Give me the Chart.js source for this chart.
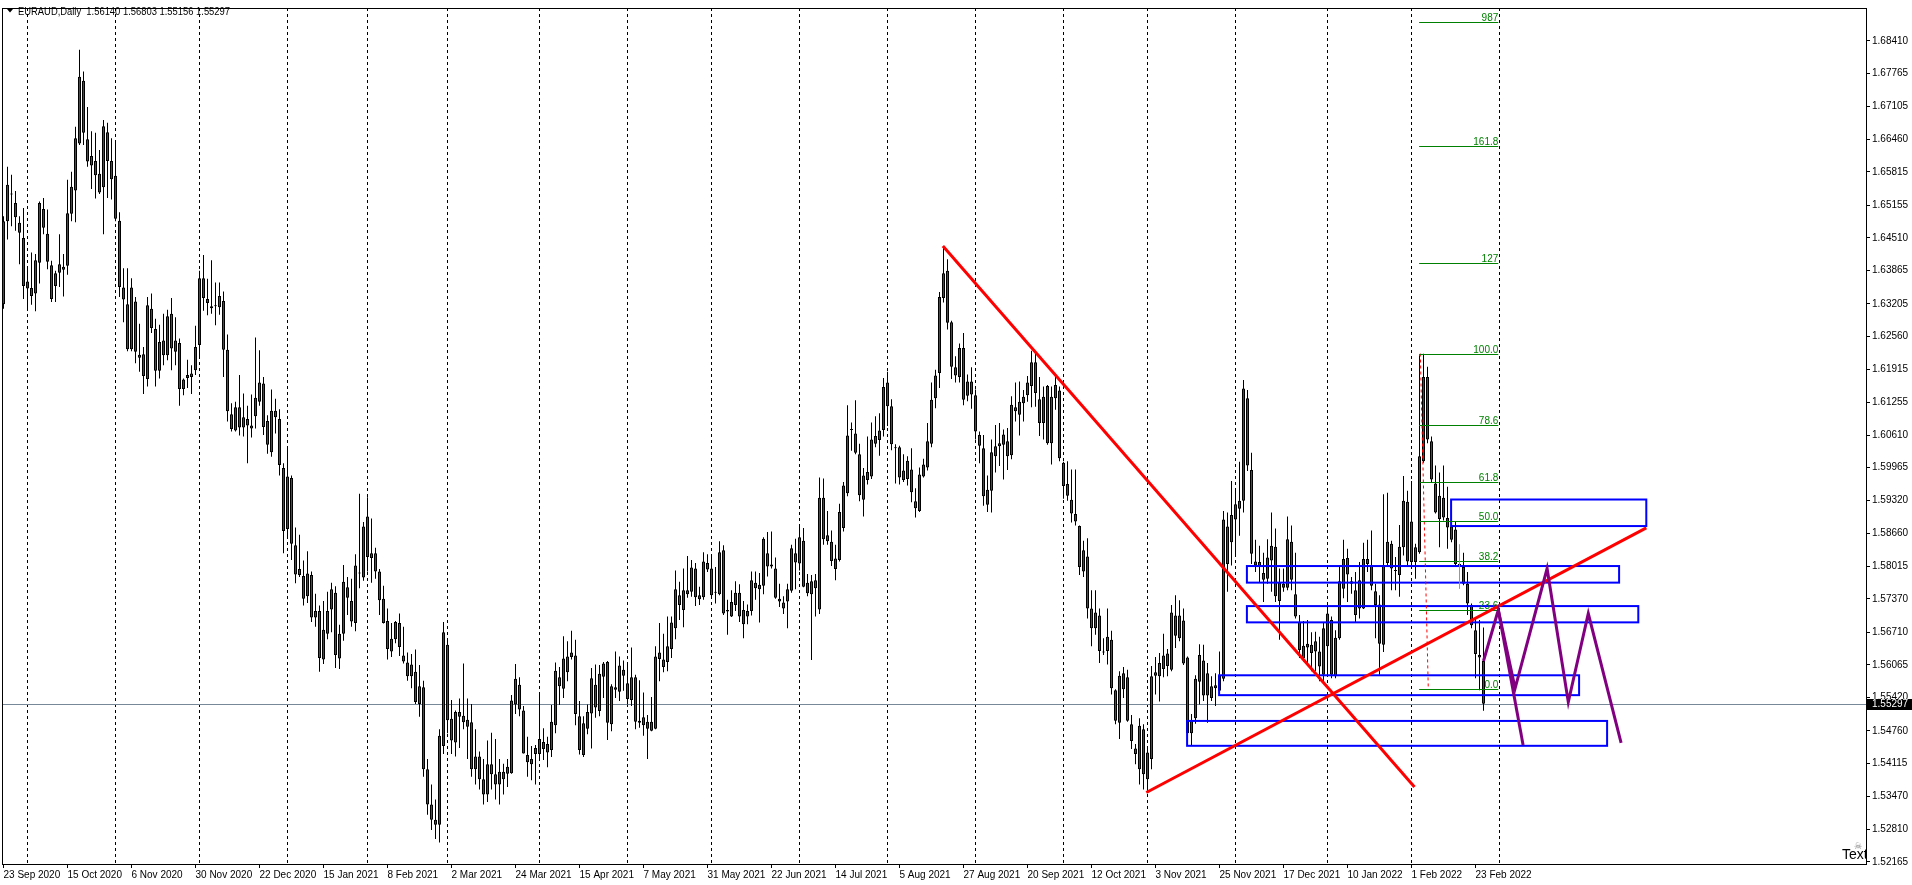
<!DOCTYPE html>
<html>
<head>
<meta charset="utf-8">
<title>EURAUD,Daily</title>
<script src="https://cdn.jsdelivr.net/npm/chart.js@4.4.1/dist/chart.umd.min.js"></script>
<style>
  html, body { margin: 0; padding: 0; background: #fff; overflow: hidden; }
  canvas { display: block; }
</style>
</head>
<body>
<canvas id="chart" width="1912" height="885"></canvas>
<script>
/* ===================== DATA ===================== */

const SYMBOL = "EURAUD,Daily";
const FIRST_BAR = "2020-09-23";
const HOLIDAYS = ["2020-12-25", "2021-01-01"];

const xTickLabels = [
  "23 Sep 2020","15 Oct 2020","6 Nov 2020","30 Nov 2020","22 Dec 2020","15 Jan 2021",
  "8 Feb 2021","2 Mar 2021","24 Mar 2021","15 Apr 2021","7 May 2021","31 May 2021",
  "22 Jun 2021","14 Jul 2021","5 Aug 2021","27 Aug 2021","20 Sep 2021","12 Oct 2021",
  "3 Nov 2021","25 Nov 2021","17 Dec 2021","10 Jan 2022","1 Feb 2022","23 Feb 2022"
];

const yTickValues = [
  1.68410,1.67765,1.67105,1.66460,1.65815,1.65155,1.64510,1.63865,1.63205,1.62560,
  1.61915,1.61255,1.60610,1.59965,1.59320,1.58660,1.58015,1.57370,1.56710,1.56065,
  1.55420,1.54760,1.54115,1.53470,1.52810,1.52165
];

const opens = [
  1.6320,1.6484,1.6538,1.6520,1.6481,1.6451,1.6365,1.6336,1.6341,1.6402,
  1.6508,1.6459,1.6397,1.6356,1.6382,1.6388,1.6396,1.6499,1.6545,1.6638,
  1.6762,1.6646,1.6594,1.6603,1.6578,1.6551,1.6660,1.6603,1.6574,1.6485,
  1.6353,1.6320,1.6231,1.6325,1.6220,1.6221,1.6172,1.6311,1.6271,1.6188,
  1.6219,1.6219,1.6301,1.6226,1.6243,1.6152,1.6180,1.6176,1.6189,1.6239,
  1.6371,1.6330,1.6316,1.6316,1.6314,1.6326,1.6230,1.6102,1.6070,1.6116,
  1.6076,1.6093,1.6080,1.6098,1.6127,1.6163,1.6089,1.6027,1.6109,1.6093,
  1.5996,1.5875,1.5976,1.5843,1.5784,1.5782,1.5742,1.5784,1.5700,1.5713,
  1.5617,1.5668,1.5716,1.5749,1.5619,1.5668,1.5760,1.5733,1.5689,1.5788,
  1.5779,1.5900,1.5818,1.5827,1.5791,1.5737,1.5693,1.5633,1.5657,1.5689,
  1.5625,1.5611,1.5584,1.5593,1.5529,1.5562,1.5400,1.5330,1.5300,1.5290,
  1.5446,1.5646,1.5500,1.5453,1.5513,1.5493,1.5498,1.5493,1.5400,1.5425,
  1.5380,1.5350,1.5410,1.5390,1.5370,1.5395,1.5391,1.5392,1.5528,1.5567,
  1.5516,1.5428,1.5410,1.5430,1.5430,1.5454,1.5450,1.5438,1.5487,1.5582,
  1.5559,1.5592,1.5622,1.5625,1.5505,1.5428,1.5480,1.5510,1.5567,1.5515,
  1.5583,1.5612,1.5489,1.5562,1.5553,1.5597,1.5570,1.5537,1.5582,1.5496,
  1.5487,1.5480,1.5476,1.5480,1.5618,1.5617,1.5612,1.5638,1.5679,1.5744,
  1.5715,1.5746,1.5751,1.5797,1.5736,1.5740,1.5808,1.5797,1.5750,1.5746,
  1.5833,1.5712,1.5702,1.5725,1.5749,1.5687,1.5702,1.5713,1.5769,1.5756,
  1.5763,1.5827,1.5801,1.5797,1.5737,1.5730,1.5732,1.5753,1.5809,1.5807,
  1.5852,1.5769,1.5746,1.5774,1.5716,1.5937,1.5863,1.5850,1.5796,1.5814,
  1.5877,1.5946,1.6071,1.6064,1.6023,1.5933,1.5972,1.5979,1.6044,1.6051,
  1.6071,1.6165,1.6118,1.6036,1.6037,1.5972,1.5974,1.5993,1.5930,1.5911,
  1.5979,1.5997,1.6044,1.6134,1.6184,1.6332,1.6386,1.6284,1.6195,1.6176,
  1.6233,1.6139,1.6167,1.6140,1.6061,1.6035,1.5923,1.5951,1.6019,1.6039,
  1.6042,1.6049,1.6021,1.6116,1.6101,1.6124,1.6140,1.6158,1.6205,1.6132,
  1.6085,1.6158,1.6045,1.6134,1.6149,1.6006,1.5964,1.5933,1.5905,1.5881,
  1.5791,1.5821,1.5718,1.5679,1.5704,1.5632,1.5634,1.5656,1.5556,1.5492,
  1.5558,1.5582,1.5489,1.5441,1.5400,1.5479,1.5380,1.5420,1.5585,1.5584,
  1.5598,1.5604,1.5597,1.5704,1.5659,1.5694,1.5621,1.5471,1.5501,1.5573,
  1.5615,1.5590,1.5541,1.5560,1.5555,1.5579,1.5880,1.5849,1.5894,1.5915,
  1.5931,1.6134,1.5992,1.5811,1.5810,1.5788,1.5777,1.5813,1.5840,1.5733,
  1.5759,1.5759,1.5850,1.5746,1.5691,1.5620,1.5641,1.5630,1.5633,1.5633,
  1.5587,1.5643,1.5695,1.5584,1.5659,1.5757,1.5818,1.5767,1.5754,1.5718,
  1.5718,1.5806,1.5803,1.5752,1.5726,1.5646,1.5808,1.5846,1.5793,1.5784,
  1.5839,1.5929,1.5890,1.5839,1.5829,1.6009,1.6176,1.6049,1.5965,1.5895,
  1.5937,1.5897,1.5854,1.5874,1.5806,1.5800,1.5767,1.5725,1.5675,1.5626,
  1.56140
];

const highs = [
  1.6494,1.6592,1.6576,1.6544,1.6494,1.6510,1.6392,1.6422,1.6419,1.6523,
  1.6530,1.6507,1.6406,1.6386,1.6458,1.6419,1.6566,1.6582,1.6671,1.6823,
  1.6780,1.6710,1.6662,1.6659,1.6625,1.6684,1.6679,1.6648,1.6639,1.6502,
  1.6391,1.6391,1.6371,1.6334,1.6281,1.6235,1.6334,1.6341,1.6291,1.6279,
  1.6301,1.6309,1.6332,1.6294,1.6252,1.6173,1.6210,1.6199,1.6277,1.6386,
  1.6417,1.6370,1.6407,1.6363,1.6363,1.6345,1.6260,1.6124,1.6127,1.6180,
  1.6143,1.6119,1.6141,1.6254,1.6229,1.6176,1.6100,1.6151,1.6133,1.6112,
  1.6005,1.6034,1.5981,1.5878,1.5864,1.5813,1.5831,1.5791,1.5747,1.5724,
  1.5733,1.5751,1.5769,1.5762,1.5686,1.5804,1.5780,1.5777,1.5825,1.5945,
  1.5889,1.5938,1.5896,1.5838,1.5796,1.5763,1.5718,1.5689,1.5693,1.5708,
  1.5682,1.5631,1.5628,1.5637,1.5606,1.5575,1.5420,1.5370,1.5340,1.5479,
  1.5691,1.5657,1.5537,1.5516,1.5540,1.5609,1.5540,1.5529,1.5479,1.5435,
  1.5420,1.5457,1.5472,1.5460,1.5420,1.5411,1.5420,1.5547,1.5608,1.5582,
  1.5525,1.5464,1.5446,1.5448,1.5551,1.5481,1.5464,1.5527,1.5611,1.5602,
  1.5663,1.5653,1.5674,1.5656,1.5535,1.5505,1.5528,1.5600,1.5607,1.5606,
  1.5612,1.5614,1.5568,1.5633,1.5623,1.5615,1.5610,1.5641,1.5587,1.5576,
  1.5552,1.5507,1.5543,1.5643,1.5689,1.5668,1.5702,1.5702,1.5793,1.5771,
  1.5797,1.5822,1.5814,1.5808,1.5761,1.5829,1.5825,1.5822,1.5800,1.5851,
  1.5843,1.5735,1.5754,1.5772,1.5766,1.5733,1.5726,1.5791,1.5791,1.5788,
  1.5859,1.5869,1.5870,1.5819,1.5767,1.5742,1.5767,1.5844,1.5856,1.5879,
  1.5877,1.5786,1.5784,1.5786,1.5977,1.5975,1.5911,1.5872,1.5844,1.5925,
  1.5968,1.6120,1.6086,1.6130,1.6044,1.5996,1.6058,1.6086,1.6098,1.6104,
  1.6174,1.6186,1.6132,1.6043,1.6040,1.6023,1.6019,1.6035,1.5956,1.5997,
  1.6014,1.6085,1.6165,1.6190,1.6344,1.6433,1.6409,1.6287,1.6217,1.6242,
  1.6263,1.6181,1.6195,1.6151,1.6068,1.6061,1.5981,1.6052,1.6081,1.6085,
  1.6072,1.6075,1.6138,1.6165,1.6167,1.6150,1.6178,1.6228,1.6225,1.6176,
  1.6157,1.6160,1.6157,1.6180,1.6157,1.6008,1.6009,1.5993,1.5993,1.5882,
  1.5852,1.5857,1.5754,1.5754,1.5718,1.5659,1.5718,1.5674,1.5558,1.5594,
  1.5602,1.5597,1.5507,1.5450,1.5501,1.5489,1.5445,1.5604,1.5622,1.5630,
  1.5668,1.5638,1.5725,1.5744,1.5734,1.5718,1.5623,1.5509,1.5586,1.5647,
  1.5646,1.5610,1.5584,1.5590,1.5633,1.5911,1.5908,1.5970,1.5954,1.6008,
  1.6170,1.6150,1.6026,1.5854,1.5842,1.5828,1.5855,1.5908,1.5876,1.5797,
  1.5797,1.5900,1.5882,1.5828,1.5705,1.5693,1.5695,1.5671,1.5672,1.5662,
  1.5689,1.5721,1.5702,1.5675,1.5800,1.5854,1.5836,1.5780,1.5790,1.5810,
  1.5848,1.5854,1.5872,1.5767,1.5744,1.5944,1.5947,1.5852,1.5820,1.5883,
  1.5980,1.5951,1.5970,1.5846,1.6219,1.6222,1.6196,1.6058,1.6001,1.5987,
  1.6001,1.5959,1.5934,1.5890,1.5816,1.5828,1.5790,1.5728,1.5698,1.5695,
  1.56803
];

const lows = [
  1.6311,1.6448,1.6474,1.6465,1.6399,1.6330,1.6311,1.6319,1.6306,1.6361,
  1.6458,1.6389,1.6324,1.6324,1.6354,1.6335,1.6378,1.6484,1.6482,1.6635,
  1.6635,1.6592,1.6548,1.6529,1.6538,1.6458,1.6530,1.6527,1.6484,1.6334,
  1.6284,1.6227,1.6227,1.6203,1.6186,1.6142,1.6157,1.6263,1.6157,1.6173,
  1.6199,1.6209,1.6189,1.6199,1.6119,1.6140,1.6154,1.6142,1.6180,1.6212,
  1.6307,1.6298,1.6301,1.6278,1.6299,1.6176,1.6088,1.6068,1.6068,1.6060,
  1.6058,1.6005,1.6056,1.6074,1.6119,1.6061,1.6024,1.6018,1.6064,1.5981,
  1.5827,1.5856,1.5814,1.5768,1.5780,1.5724,1.5729,1.5691,1.5682,1.5593,
  1.5608,1.5657,1.5671,1.5600,1.5598,1.5654,1.5705,1.5682,1.5673,1.5758,
  1.5773,1.5791,1.5769,1.5777,1.5705,1.5688,1.5617,1.5622,1.5649,1.5624,
  1.5609,1.5575,1.5560,1.5529,1.5504,1.5385,1.5310,1.5280,1.5262,1.5255,
  1.5430,1.5471,1.5430,1.5425,1.5442,1.5479,1.5420,1.5385,1.5370,1.5360,
  1.5330,1.5335,1.5360,1.5340,1.5330,1.5350,1.5365,1.5391,1.5509,1.5505,
  1.5431,1.5385,1.5378,1.5370,1.5417,1.5418,1.5404,1.5424,1.5471,1.5527,
  1.5541,1.5574,1.5617,1.5487,1.5429,1.5424,1.5469,1.5441,1.5502,1.5505,
  1.5541,1.5458,1.5475,1.5541,1.5535,1.5555,1.5528,1.5525,1.5479,1.5482,
  1.5466,1.5420,1.5475,1.5479,1.5574,1.5592,1.5594,1.5620,1.5657,1.5695,
  1.5681,1.5739,1.5741,1.5723,1.5725,1.5735,1.5790,1.5741,1.5728,1.5744,
  1.5705,1.5666,1.5701,1.5713,1.5691,1.5659,1.5687,1.5704,1.5735,1.5690,
  1.5746,1.5781,1.5797,1.5737,1.5721,1.5707,1.5679,1.5749,1.5756,1.5793,
  1.5760,1.5742,1.5616,1.5702,1.5707,1.5844,1.5844,1.5802,1.5774,1.5811,
  1.5870,1.5940,1.6030,1.6023,1.5930,1.5900,1.5963,1.5974,1.6037,1.6020,
  1.6058,1.6079,1.6031,1.5965,1.5963,1.5968,1.5961,1.5928,1.5898,1.5909,
  1.5977,1.5991,1.6037,1.6114,1.6154,1.6323,1.6270,1.6172,1.6165,1.6165,
  1.6120,1.6128,1.6113,1.6052,1.6005,1.5921,1.5909,1.5908,1.5987,1.6000,
  1.5973,1.5992,1.6013,1.6088,1.6060,1.6088,1.6127,1.6116,1.6117,1.6059,
  1.6052,1.6042,1.6003,1.6111,1.6009,1.5935,1.5931,1.5888,1.5882,1.5784,
  1.5780,1.5698,1.5643,1.5666,1.5610,1.5626,1.5607,1.5548,1.5489,1.5460,
  1.5541,1.5494,1.5440,1.5410,1.5370,1.5360,1.5354,1.5400,1.5548,1.5534,
  1.5582,1.5584,1.5594,1.5640,1.5653,1.5606,1.5466,1.5446,1.5490,1.5528,
  1.5535,1.5492,1.5535,1.5525,1.5548,1.5574,1.5751,1.5803,1.5823,1.5862,
  1.5908,1.5990,1.5806,1.5790,1.5770,1.5731,1.5767,1.5751,1.5731,1.5656,
  1.5751,1.5754,1.5754,1.5698,1.5620,1.5613,1.5607,1.5594,1.5594,1.5574,
  1.5571,1.5587,1.5580,1.5580,1.5656,1.5738,1.5731,1.5747,1.5689,1.5698,
  1.5717,1.5790,1.5754,1.5659,1.5587,1.5632,1.5803,1.5754,1.5754,1.5741,
  1.5823,1.5803,1.5800,1.5777,1.5826,1.6006,1.6045,1.5967,1.5906,1.5839,
  1.5892,1.5836,1.5849,1.5803,1.5790,1.5764,1.5705,1.5679,1.5580,1.5556,
  1.55156
];

const closes = [
  1.6484,1.6556,1.6537,1.6492,1.6461,1.6356,1.6351,1.6352,1.6407,1.6520,
  1.6471,1.6404,1.6330,1.6381,1.6399,1.6394,1.6500,1.6552,1.6648,1.6770,
  1.6659,1.6602,1.6613,1.6575,1.6541,1.6672,1.6603,1.6567,1.6489,1.6354,
  1.6329,1.6231,1.6353,1.6226,1.6214,1.6178,1.6318,1.6273,1.6188,1.6245,
  1.6248,1.6296,1.6232,1.6248,1.6152,1.6171,1.6174,1.6183,1.6235,1.6371,
  1.6332,1.6322,1.6312,1.6317,1.6336,1.6230,1.6108,1.6073,1.6116,1.6076,
  1.6096,1.6080,1.6074,1.6135,1.6165,1.6077,1.6042,1.6109,1.6096,1.6002,
  1.5871,1.5979,1.5846,1.5785,1.5796,1.5737,1.5787,1.5700,1.5713,1.5620,
  1.5676,1.5713,1.5756,1.5626,1.5668,1.5771,1.5739,1.5692,1.5803,1.5787,
  1.5880,1.5820,1.5827,1.5791,1.5734,1.5689,1.5638,1.5658,1.5691,1.5642,
  1.5613,1.5584,1.5607,1.5533,1.5564,1.5400,1.5330,1.5300,1.5290,1.5466,
  1.5671,1.5497,1.5457,1.5513,1.5504,1.5506,1.5484,1.5400,1.5425,1.5380,
  1.5350,1.5410,1.5390,1.5370,1.5395,1.5380,1.5405,1.5536,1.5579,1.5518,
  1.5431,1.5414,1.5420,1.5442,1.5460,1.5440,1.5433,1.5494,1.5595,1.5564,
  1.5619,1.5623,1.5631,1.5509,1.5438,1.5491,1.5513,1.5580,1.5522,1.5589,
  1.5609,1.5492,1.5564,1.5557,1.5605,1.5585,1.5539,1.5582,1.5494,1.5492,
  1.5503,1.5494,1.5494,1.5623,1.5631,1.5602,1.5643,1.5690,1.5756,1.5725,
  1.5754,1.5754,1.5799,1.5740,1.5744,1.5811,1.5795,1.5744,1.5749,1.5829,
  1.5708,1.5715,1.5731,1.5749,1.5702,1.5715,1.5713,1.5774,1.5758,1.5765,
  1.5856,1.5801,1.5805,1.5739,1.5732,1.5718,1.5756,1.5837,1.5827,1.5859,
  1.5761,1.5748,1.5772,1.5758,1.5937,1.5855,1.5851,1.5812,1.5817,1.5909,
  1.5961,1.6060,1.6072,1.6026,1.5942,1.5981,1.5988,1.6052,1.6059,1.6070,
  1.6156,1.6118,1.6043,1.6035,1.5977,1.5991,1.6010,1.5948,1.5916,1.5983,
  1.6003,1.6049,1.6131,1.6179,1.6334,1.6381,1.6283,1.6196,1.6179,1.6233,
  1.6131,1.6167,1.6141,1.6068,1.6040,1.5940,1.5953,1.6027,1.6039,1.6045,
  1.6062,1.6019,1.6121,1.6108,1.6127,1.6137,1.6165,1.6205,1.6144,1.6085,
  1.6137,1.6045,1.6137,1.6160,1.6015,1.5960,1.5941,1.5906,1.5890,1.5800,
  1.5833,1.5718,1.5679,1.5710,1.5634,1.5631,1.5662,1.5560,1.5496,1.5585,
  1.5590,1.5496,1.5456,1.5430,1.5486,1.5390,1.5433,1.5584,1.5592,1.5610,
  1.5625,1.5629,1.5710,1.5664,1.5704,1.5609,1.5471,1.5497,1.5579,1.5626,
  1.5546,1.5546,1.5564,1.5566,1.5586,1.5894,1.5806,1.5903,1.5924,1.5931,
  1.6153,1.6001,1.5826,1.5803,1.5800,1.5775,1.5819,1.5842,1.5742,1.5769,
  1.5767,1.5855,1.5775,1.5702,1.5636,1.5644,1.5648,1.5646,1.5653,1.5603,
  1.5679,1.5708,1.5587,1.5660,1.5772,1.5816,1.5785,1.5772,1.5705,1.5774,
  1.5816,1.5816,1.5763,1.5725,1.5648,1.5804,1.5850,1.5797,1.5792,1.5840,
  1.5931,1.5811,1.5810,1.5810,1.6019,1.6176,1.6052,1.5973,1.5908,1.5941,
  1.5898,1.5878,1.5880,1.5806,1.5800,1.5767,1.5728,1.5685,1.5628,1.5621,
  1.55297
];

const bidPrice = 1.55297;

/* drawn objects, in [bar index, price] */
const redTrendLines = [
  [[234.85, 1.6435], [352.75, 1.5365]],
  [[285.7, 1.5354], [410.7, 1.58775]]
];
const zigzag = [[370, 1.5614], [373.7, 1.5715], [377.9, 1.5560], [385.9, 1.5797],
                [391.2, 1.5533], [396.2, 1.5708], [404.4, 1.5452]];
const zigzagBranch = [[373.7, 1.5715], [379.9, 1.5448]];
const zones = [
  [361.9, 410.7, 1.59335, 1.58810],
  [310.85, 403.9, 1.58019, 1.57691],
  [310.85, 408.7, 1.57227, 1.56905],
  [303.9, 393.9, 1.55858, 1.55465],
  [295.9, 400.9, 1.54955, 1.54463]
];
const fibFrom = 353.9, fibTo = 373.7;
const fibZero = 1.55583, fibHundred = 1.62223;
const fibLevels = [0, 23.6, 38.2, 50, 61.8, 78.6, 100, 127, 161.8, 198.8];
const fibLabels = ["0.0", "23.6", "38.2", "50.0", "61.8", "78.6", "100.0", "127", "161.8", "987"];
const fibAnchors = [[354.2, fibHundred], [356.2, fibZero]];
const greenMarker = [363.9, 1.58451, 1.57567];
const textObject = [459.6, 1.52224];

/* ===================== HELPERS ===================== */

const UI_FONT = "'Liberation Sans', Arial, sans-serif";

function buildDates() {
  const out = [];
  const d = new Date(FIRST_BAR + "T00:00:00Z");
  while (out.length < closes.length) {
    const iso = d.toISOString().slice(0, 10);
    const wd = d.getUTCDay();
    if (wd !== 0 && wd !== 6 && !HOLIDAYS.includes(iso)) out.push(iso);
    d.setUTCDate(d.getUTCDate() + 1);
  }
  // past the last bar the terminal counts calendar days
  for (let k = 0; k < 5; k++) {
    out.push(d.toISOString().slice(0, 10));
    d.setUTCDate(d.getUTCDate() + 1);
  }
  return out;
}

const dates = buildDates();
const monthStarts = dates
  .map((iso, i) => (i > 0 && iso.slice(5, 7) !== dates[i - 1].slice(5, 7)) ? i : -1)
  .filter(i => i >= 0);

function polyline(ctx, chart, pts) {
  const { x, y } = chart.scales;
  ctx.beginPath();
  pts.forEach(([i, p], k) => {
    const px = x.getPixelForValue(i), py = y.getPixelForValue(p);
    k ? ctx.lineTo(px, py) : ctx.moveTo(px, py);
  });
  ctx.stroke();
}

function clipArea(ctx, a) {
  ctx.beginPath();
  ctx.rect(a.left, a.top, a.right - a.left, a.bottom - a.top);
  ctx.clip();
}

/* ===================== OVERLAYS ===================== */

const terminalLayer = {
  id: "terminalLayer",

  beforeDatasetsDraw(chart) {
    const { ctx, chartArea: a, scales: { x, y } } = chart;
    ctx.save();
    clipArea(ctx, a);

    // month separators
    ctx.strokeStyle = "#000";
    ctx.lineWidth = 1;
    ctx.setLineDash([3, 3]);
    monthStarts.forEach(i => {
      const px = Math.floor(x.getPixelForValue(i)) + 0.5;
      ctx.beginPath();
      ctx.moveTo(px, a.top);
      ctx.lineTo(px, a.bottom);
      ctx.stroke();
    });
    ctx.setLineDash([]);

    // bid line
    const by = Math.round(y.getPixelForValue(bidPrice)) + 0.5;
    ctx.strokeStyle = "#778899";
    ctx.beginPath();
    ctx.moveTo(a.left, by);
    ctx.lineTo(a.right, by);
    ctx.stroke();
    ctx.restore();
  },

  afterDatasetsDraw(chart) {
    const { ctx, chartArea: a, scales: { x, y } } = chart;
    ctx.save();
    clipArea(ctx, a);
    ctx.lineJoin = "miter";

    // rectangles
    ctx.strokeStyle = "#0000ff";
    ctx.lineWidth = 2;
    zones.forEach(([i1, i2, top, bot]) => {
      const x1 = x.getPixelForValue(i1), x2 = x.getPixelForValue(i2);
      const y1 = y.getPixelForValue(top), y2 = y.getPixelForValue(bot);
      ctx.strokeRect(x1, y1, x2 - x1, y2 - y1);
    });

    // fibonacci
    ctx.strokeStyle = "#ff0000";
    ctx.lineWidth = 1;
    ctx.setLineDash([3, 3]);
    polyline(ctx, chart, fibAnchors);
    ctx.setLineDash([]);

    const fx1 = x.getPixelForValue(fibFrom), fx2 = x.getPixelForValue(fibTo);
    ctx.strokeStyle = "#008000";
    ctx.fillStyle = "#008000";
    ctx.font = "10px " + UI_FONT;
    ctx.textAlign = "right";
    ctx.textBaseline = "alphabetic";
    fibLevels.forEach((lvl, k) => {
      const price = fibZero + (fibHundred - fibZero) * lvl / 100;
      const py = Math.round(y.getPixelForValue(price)) + 0.5;
      ctx.beginPath();
      ctx.moveTo(fx1, py);
      ctx.lineTo(fx2, py);
      ctx.stroke();
      ctx.fillText(fibLabels[k], fx2, py - 2);
    });

    // small marker
    ctx.strokeStyle = "#33dd33";
    const gx = Math.round(x.getPixelForValue(greenMarker[0])) + 0.5;
    ctx.beginPath();
    ctx.moveTo(gx, y.getPixelForValue(greenMarker[1]));
    ctx.lineTo(gx, y.getPixelForValue(greenMarker[2]));
    ctx.stroke();

    // trend lines
    ctx.strokeStyle = "#ff0000";
    ctx.lineWidth = 3;
    redTrendLines.forEach(l => polyline(ctx, chart, l));

    // projection
    ctx.strokeStyle = "#800080";
    ctx.lineWidth = 3;
    polyline(ctx, chart, zigzag);
    polyline(ctx, chart, zigzagBranch);

    // text object
    const tx = x.getPixelForValue(textObject[0]), ty = y.getPixelForValue(textObject[1]);
    ctx.fillStyle = "#000";
    ctx.textAlign = "left";
    ctx.font = "14px " + UI_FONT;
    ctx.fillText("Text", tx, ty);
    ctx.fillStyle = "#808080";
    ctx.font = "9px 'DejaVu Sans', sans-serif";
    ctx.fillText("\u2620", tx + 12, ty - 10);
    ctx.restore();
  },

  afterDraw(chart) {
    const { ctx, chartArea: a, scales: { y } } = chart;
    ctx.save();

    // frame
    ctx.strokeStyle = "#000";
    ctx.lineWidth = 1;
    ctx.strokeRect(a.left + 0.5, a.top + 0.5, a.right - a.left, a.bottom - a.top);

    // header
    ctx.fillStyle = "#000";
    ctx.beginPath();
    ctx.moveTo(7, 9);
    ctx.lineTo(13, 9);
    ctx.lineTo(10, 12.5);
    ctx.closePath();
    ctx.fill();
    ctx.font = "10px " + UI_FONT;
    ctx.textAlign = "left";
    ctx.textBaseline = "alphabetic";
    const head = SYMBOL + "  " + [opens, highs, lows, closes]
      .map(s => s[s.length - 1].toFixed(5)).join(" ");
    ctx.fillText(head, 18, 14.5, 212);

    // bid label
    const by = Math.round(y.getPixelForValue(bidPrice));
    ctx.fillStyle = "#000";
    ctx.fillRect(a.right + 1, by - 5, chart.width - a.right - 1, 11);
    ctx.fillStyle = "#fff";
    ctx.font = "10px " + UI_FONT;
    ctx.textBaseline = "middle";
    ctx.fillText(bidPrice.toFixed(5), a.right + 6, by + 0.5);
    ctx.restore();
  }
};

/* ===================== CHART ===================== */

const bodyColors = closes.map((c, i) => c >= opens[i] ? "#008000" : "#ff0000");

new Chart(document.getElementById("chart"), {
  type: "bar",
  data: {
    datasets: [
      {
        label: "body",
        data: closes.map((c, i) => ({ x: i, y: [opens[i], c] })),
        backgroundColor: bodyColors,
        borderColor: "#000",
        borderWidth: 1,
        borderSkipped: false,
        barThickness: 3,
        minBarLength: 1,
        grouped: false,
        inflateAmount: 0,
        order: 0
      },
      {
        label: "wick",
        data: highs.map((h, i) => ({ x: i, y: [lows[i], h] })),
        backgroundColor: "#000",
        borderWidth: 0,
        barThickness: 1,
        grouped: false,
        inflateAmount: 0,
        order: 1
      }
    ]
  },
  options: {
    responsive: false,
    animation: false,
    devicePixelRatio: 1,
    events: [],
    layout: { padding: { left: 2, top: 2, right: 0, bottom: 0 } },
    plugins: { legend: { display: false }, tooltip: { enabled: false } },
    scales: {
      x: {
        type: "linear",
        min: -0.375,
        max: 465.625,
        offset: false,
        afterBuildTicks: s => { s.ticks = xTickLabels.map((_, k) => ({ value: k * 16 })); },
        afterFit: s => { s.height = 21; },
        grid: { drawOnChartArea: false, drawTicks: true, tickLength: 4, color: "#000", offset: false },
        border: { display: true, color: "#000" },
        ticks: {
          autoSkip: false, maxRotation: 0, minRotation: 0, align: "start", padding: 1,
          color: "#000", font: { family: UI_FONT, size: 10 },
          callback: v => xTickLabels[Math.round(v / 16)]
        }
      },
      y: {
        position: "right",
        min: 1.52125,
        max: 1.69058,
        afterBuildTicks: s => { s.ticks = yTickValues.map(v => ({ value: v })); },
        afterFit: s => { s.width = 46; },
        grid: { drawOnChartArea: false, drawTicks: true, tickLength: 4, color: "#000" },
        border: { display: true, color: "#000" },
        ticks: {
          padding: 2, color: "#000", font: { family: UI_FONT, size: 10 },
          callback: v => v.toFixed(5)
        }
      }
    }
  },
  plugins: [terminalLayer]
});
</script>
</body>
</html>
